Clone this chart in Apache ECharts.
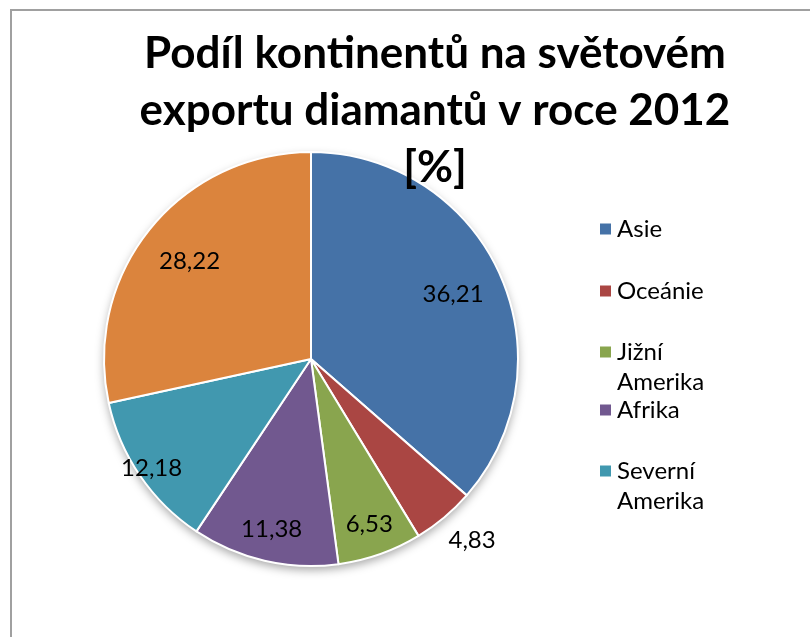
<!DOCTYPE html>
<html>
<head>
<meta charset="utf-8">
<script src="https://cdn.jsdelivr.net/npm/echarts@6/dist/echarts.min.js"></script>
<style>
  html, body { margin: 0; padding: 0; background: #fff; }
  #frame {
    position: absolute; left: 10px; top: 9px; right: -10px; bottom: -10px;
    border-top: 2px solid #a0a0a0;
    border-left: 2px solid #a0a0a0;
  }
  #chart { position: absolute; left: 0; top: 0; width: 810px; height: 637px; }
</style>
</head>
<body>
<div id="frame"></div>
<div id="chart"></div>
<script>
  // data
  const continents = ['Asie', 'Oceánie', 'Jižní Amerika', 'Afrika', 'Severní Amerika', 'Evropa']
  const shares = [36.21, 4.83, 6.53, 11.38, 12.18, 28.22]
  const legendNames = ['Asie', 'Oceánie', 'Jižní Amerika', 'Afrika', 'Severní Amerika']
  const colors = ['#4572A7', '#AA4643', '#89A54E', '#71588F', '#4198AF', '#DB843D']

  const font = 'Lato'
  const R = 207
  const center = [311, 359]

  let chart = echarts.init(document.getElementById('chart'))

  let pieData = continents.map(function (name, i) {
    return { name: name, value: shares[i], itemStyle: { color: colors[i] } }
  })

  // label rings: which slices get their label on which ring
  function labelSeries(inner, show, outside) {
    return {
      type: 'pie',
      silent: true,
      center: center,
      radius: [inner, R],
      startAngle: 90,
      avoidLabelOverlap: false,
      itemStyle: { color: 'transparent', borderWidth: 0 },
      labelLine: { show: false, length: 30, length2: -20 },
      data: continents.map(function (name, i) {
        let on = show.indexOf(name) >= 0 || name === outside
        return {
          name: name,
          value: shares[i],
          label: {
            show: on,
            position: name === outside ? 'outside' : 'inside',
            formatter: function (p) { return p.value.toFixed(2).replace('.', ',') },
            color: '#000',
            fontFamily: font,
            fontSize: 24
          }
        }
      })
    }
  }

  // one legend per entry, two-word names wrap onto a second line
  let legends = legendNames.map(function (name, i) {
    let tops = [209, 271, 302, 390, 421]
    return {
      orient: 'vertical',
      left: 593,
      top: tops[i],
      icon: 'rect',
      itemWidth: 13,
      itemHeight: 13,
      selectedMode: false,
      data: [name],
      formatter: function (n) { return n.indexOf(' ') >= 0 ? '\n' + n.replace(' ', '\n') : n },
      textStyle: { fontFamily: font, fontSize: 24, color: '#000', lineHeight: 30 }
    }
  })

  let option = {
    animation: false,
    title: {
      text: 'Podíl kontinentů na světovém\nexportu diamantů v roce 2012\n[%]',
      left: 430,
      top: 20,
      textAlign: 'center',
      textStyle: { fontFamily: font, fontWeight: 'bold', fontSize: 44, lineHeight: 57, color: '#000' }
    },
    legend: legends,
    series: [
      {
        // shadow disc under the pie
        type: 'pie',
        silent: true,
        center: center,
        radius: [0, R],
        label: { show: false },
        itemStyle: { color: '#fff', shadowBlur: 10, shadowOffsetY: 4, shadowColor: 'rgba(0,0,0,0.35)' },
        data: [{ name: '_', value: 1 }]
      },
      {
        type: 'pie',
        center: center,
        radius: [0, R],
        startAngle: 90,
        label: { show: false },
        labelLine: { show: false },
        itemStyle: { borderColor: '#fff', borderWidth: 2 },
        data: pieData
      },
      labelSeries(99, ['Asie', 'Evropa'], null),
      labelSeries(137, ['Jižní Amerika', 'Afrika'], 'Oceánie'),
      labelSeries(173, ['Severní Amerika'], null)
    ]
  }
  chart.setOption(option)
</script>
</body>
</html>
